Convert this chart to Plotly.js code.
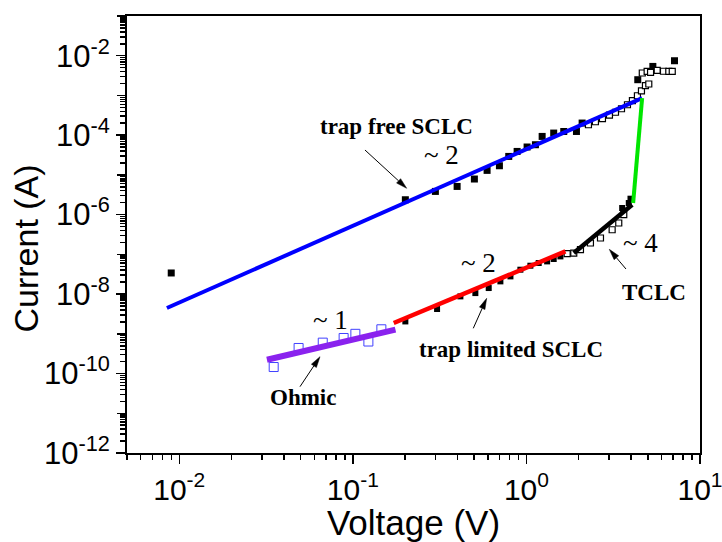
<!DOCTYPE html>
<html>
<head>
<meta charset="utf-8">
<script src="https://cdn.plot.ly/plotly-3.0.1.min.js"></script>
<style>html,body{margin:0;padding:0;background:#fff;}#chart{width:722px;height:542px;}</style>
</head>
<body>
<div id="chart"></div>
<script>
// ---- data (Voltage in V, Current in A) ----
const trapFreeV = [0.00899, 0.2007, 0.2989, 0.3988, 0.5015, 0.5935, 0.699, 0.791, 0.884, 1.009, 1.127, 1.232, 1.436, 1.641, 1.942, 2.094, 4.38, 5.35, 7.13];
const trapFreeI = [3.40e-8, 2.37e-6, 3.84e-6, 5.13e-6, 7.88e-6, 1.30e-5, 1.70e-5, 2.92e-5, 3.90e-5, 5.04e-5, 5.75e-5, 9.31e-5, 1.13e-4, 1.24e-4, 1.24e-4, 2.02e-4, 2.49e-3, 5.38e-3, 7.48e-3];

const upperOpenV = [2.277, 2.498, 2.742, 3.009, 3.26, 3.53, 3.82, 4.08, 4.36, 4.60, 4.85, 5.07, 4.65, 4.96, 5.19, 5.67, 6.16, 6.61, 6.92];
const upperOpenI = [1.83e-4, 2.18e-4, 2.60e-4, 3.18e-4, 3.78e-4, 4.63e-4, 5.84e-4, 7.37e-4, 9.84e-4, 1.31e-3, 1.76e-3, 1.94e-3, 3.67e-3, 4.03e-3, 3.80e-3, 4.26e-3, 4.07e-3, 4.03e-3, 4.03e-3];

const trapLimV = [0.2007, 0.3057, 0.4165, 0.508, 0.6065, 0.708, 0.809, 0.923, 1.054, 1.177, 1.316, 1.436, 1.570, 3.562, 3.888, 3.977];
const trapLimI = [2.05e-9, 4.21e-9, 8.75e-9, 1.06e-8, 1.42e-8, 2.09e-8, 2.79e-8, 4.11e-8, 5.18e-8, 6.05e-8, 6.65e-8, 7.64e-8, 8.88e-8, 1.47e-6, 1.96e-6, 2.52e-6];

const tclcOpenV = [1.717, 1.874, 2.048, 2.338, 2.671, 3.118, 3.404, 3.638];
const tclcOpenI = [1.04e-7, 1.08e-7, 1.31e-7, 1.93e-7, 2.58e-7, 4.17e-7, 6.15e-7, 9.95e-7];

const ohmicV = [0.0350, 0.0487, 0.0671, 0.0885, 0.1034, 0.1229, 0.146];
const ohmicI = [1.46e-10, 4.4e-10, 6.0e-10, 7.85e-10, 1.0e-9, 6.4e-10, 1.3e-9];

// fitted lines
const freeFitV = [0.00849, 4.64];
const freeFitI = [4.47e-9, 8.6e-4];
const jumpFitV = [4.12, 4.64];
const jumpFitI = [1.96e-6, 8.6e-4];
const ohmFitV = [0.032, 0.176];
const ohmFitI = [2.23e-10, 1.27e-9];
const tlFitV = [0.172, 1.678];
const tlFitI = [1.87e-9, 1.19e-7];
const tclcFitV = [1.875, 4.066];
const tclcFitI = [1.08e-7, 1.78e-6];

// axis ticks
const yTickVals = [1e-12,1e-10,1e-8,1e-6,1e-4,1e-2];
const yTickText = ['10<sup>-12</sup>','10<sup>-10</sup>','10<sup>-8</sup>','10<sup>-6</sup>','10<sup>-4</sup>','10<sup>-2</sup>'];
const yOddTickVals = [1e-11,1e-9,1e-7,1e-5,1e-3,1e-1];
const xTickVals = [1e-2,1e-1,1,10];
const xTickText = ['10<sup>-2</sup>','10<sup>-1</sup>','10<sup>0</sup>','10<sup>1</sup>'];

function minorVals(expLo, expHi){
  const out=[];
  for(let e=expLo;e<expHi;e++){ for(let d=2;d<=9;d++){ out.push(d*Math.pow(10,e)); } }
  return out;
}

const sq = (color, size, open) => ({symbol: open ? 'square-open' : 'square', size: size, color: color, line:{width: open?1:0, color: color}});

const traces = [
  {x: ohmicV, y: ohmicI, mode:'markers', marker: sq('#4040ff', 9, true), hoverinfo:'skip'},
  {x: trapFreeV, y: trapFreeI, mode:'markers', marker: sq('#000', 7, false), hoverinfo:'skip'},
  {x: upperOpenV, y: upperOpenI, mode:'markers', marker: {symbol:'square', size:6, color:'#fff', line:{width:1.2,color:'#000'}}, hoverinfo:'skip'},
  {x: trapLimV, y: trapLimI, mode:'markers', marker: sq('#000', 6, false), hoverinfo:'skip'},
  {x: tclcOpenV, y: tclcOpenI, mode:'markers', marker: {symbol:'square', size:6, color:'#fff', line:{width:1.2,color:'#000'}}, hoverinfo:'skip'},
  {x: freeFitV, y: freeFitI, mode:'lines', line:{color:'#0000ff', width:4}, hoverinfo:'skip'},
  {x: jumpFitV, y: jumpFitI, mode:'lines', line:{color:'#00e600', width:4}, hoverinfo:'skip'},
  {x: ohmFitV, y: ohmFitI, mode:'lines', line:{color:'#8a22ee', width:6}, hoverinfo:'skip'},
  {x: tlFitV, y: tlFitI, mode:'lines', line:{color:'#ff0000', width:4.5}, hoverinfo:'skip'},
  {x: tclcFitV, y: tclcFitI, mode:'lines', line:{color:'#000000', width:4.5}, hoverinfo:'skip'}
];

const serifB = {family:'Liberation Serif, Times New Roman, serif', size:23, color:'#000', weight:'bold'};
const serif = {family:'Liberation Serif, Times New Roman, serif', size:27, color:'#000'};
function txt(t, x, y, font){ return {text:t, x:x, y:y, xref:'paper', yref:'paper', showarrow:false, font:font, xanchor:'center', yanchor:'middle'}; }

// arrows drawn as shapes (head in paper coords, tail offset in px)
const PW = 573, PH = 437;
function arrowShapes(hx, hy, ax, ay){
  const tx = hx + ax/PW, ty = hy - ay/PH;
  const dxp = -ax, dyp = ay;
  const len = Math.hypot(dxp, dyp), ux = dxp/len, uy = dyp/len;
  const L = 11, Wd = 3;
  const bx = hx - ux*L/PW, by = hy - uy*L/PH;
  const p1x = bx + (-uy)*Wd/PW, p1y = by + (ux)*Wd/PH;
  const p2x = bx - (-uy)*Wd/PW, p2y = by - (ux)*Wd/PH;
  return [
    {type:'line', xref:'paper', yref:'paper', x0:tx, y0:ty, x1:bx, y1:by, line:{color:'#000', width:1}},
    {type:'path', xref:'paper', yref:'paper', path:`M ${hx} ${hy} L ${p1x} ${p1y} L ${p2x} ${p2y} Z`, fillcolor:'#000', line:{color:'#000', width:0.5}}
  ];
}

const layout = {
  width:722, height:542,
  margin:{l:127, r:22, t:16, b:89, pad:0},
  paper_bgcolor:'#fff', plot_bgcolor:'#fff',
  showlegend:false,
  font:{family:'Liberation Sans, Arial, sans-serif', color:'#000'},
  xaxis:{
    type:'log', range:[Math.log10(0.005), 1], showgrid:false, zeroline:false,
    showline:true, linecolor:'#000', linewidth:2, mirror:true,
    ticks:'outside', ticklen:9, tickwidth:1.5, tickcolor:'#000',
    tickmode:'array', tickvals:xTickVals, ticktext:xTickText,
    ticklabeloverflow:'allow',
    tickfont:{size:30, family:'Liberation Sans, Arial, sans-serif'},
    minor:{tickmode:'array', tickvals:minorVals(-3,1), ticks:'outside', ticklen:5, tickwidth:1.5, tickcolor:'#000', showgrid:false},
    title:{text:'Voltage (V)', font:{size:35, family:'Liberation Sans, Arial, sans-serif'}, standoff:0}
  },
  yaxis:{
    type:'log', range:[-12, -1], showgrid:false, zeroline:false,
    showline:true, linecolor:'#000', linewidth:2, mirror:true,
    ticks:'outside', ticklen:9, tickwidth:1.5, tickcolor:'#000',
    tickmode:'array', tickvals:yTickVals, ticktext:yTickText,
    tickfont:{size:31, family:'Liberation Sans, Arial, sans-serif'},
    minor:{tickmode:'array', tickvals:minorVals(-12,-1), ticks:'outside', ticklen:5, tickwidth:1.5, tickcolor:'#000', showgrid:false}
  },
  yaxis2:{
    type:'log', range:[-12, -1], overlaying:'y', side:'left', showgrid:false, zeroline:false,
    showline:false, showticklabels:false,
    ticks:'outside', ticklen:9, tickwidth:1.5, tickcolor:'#000',
    tickmode:'array', tickvals:yOddTickVals
  },
  shapes:[].concat(
    arrowShapes(0.4881, 0.6057, -41.7, -38.3),
    arrowShapes(0.8417, 0.4661, 16.7, 19.7),
    arrowShapes(0.6277, 0.354, -13.4, 30),
    arrowShapes(0.3368, 0.2204, -20, 30)
  ),
  annotations:[
    {text:'Current (A)', textangle:-90, x:-0.1754, y:0.469, xref:'paper', yref:'paper', showarrow:false,
     xanchor:'center', yanchor:'middle', font:{size:34, family:'Liberation Sans, Arial, sans-serif', color:'#000'}},
    txt('trap free SCLC', 0.4695, 0.746, serifB),
    txt('~ 2', 0.548, 0.682, serif),
    txt('~ 2', 0.6126, 0.4348, serif),
    txt('~ 1', 0.356, 0.3043, serif),
    txt('~ 4', 0.8953, 0.4805, serif),
    txt('TCLC', 0.9197, 0.3684, serifB),
    txt('trap limited SCLC', 0.671, 0.2357, serifB),
    txt('Ohmic', 0.3072, 0.1281, serifB)
  ]
};

// invisible trace to activate the secondary tick axis
traces.push({x:[1], y:[1e-6], yaxis:'y2', mode:'markers', marker:{opacity:0}, hoverinfo:'skip', showlegend:false});

Plotly.newPlot('chart', traces, layout, {staticPlot:true, displayModeBar:false});
</script>
</body>
</html>
